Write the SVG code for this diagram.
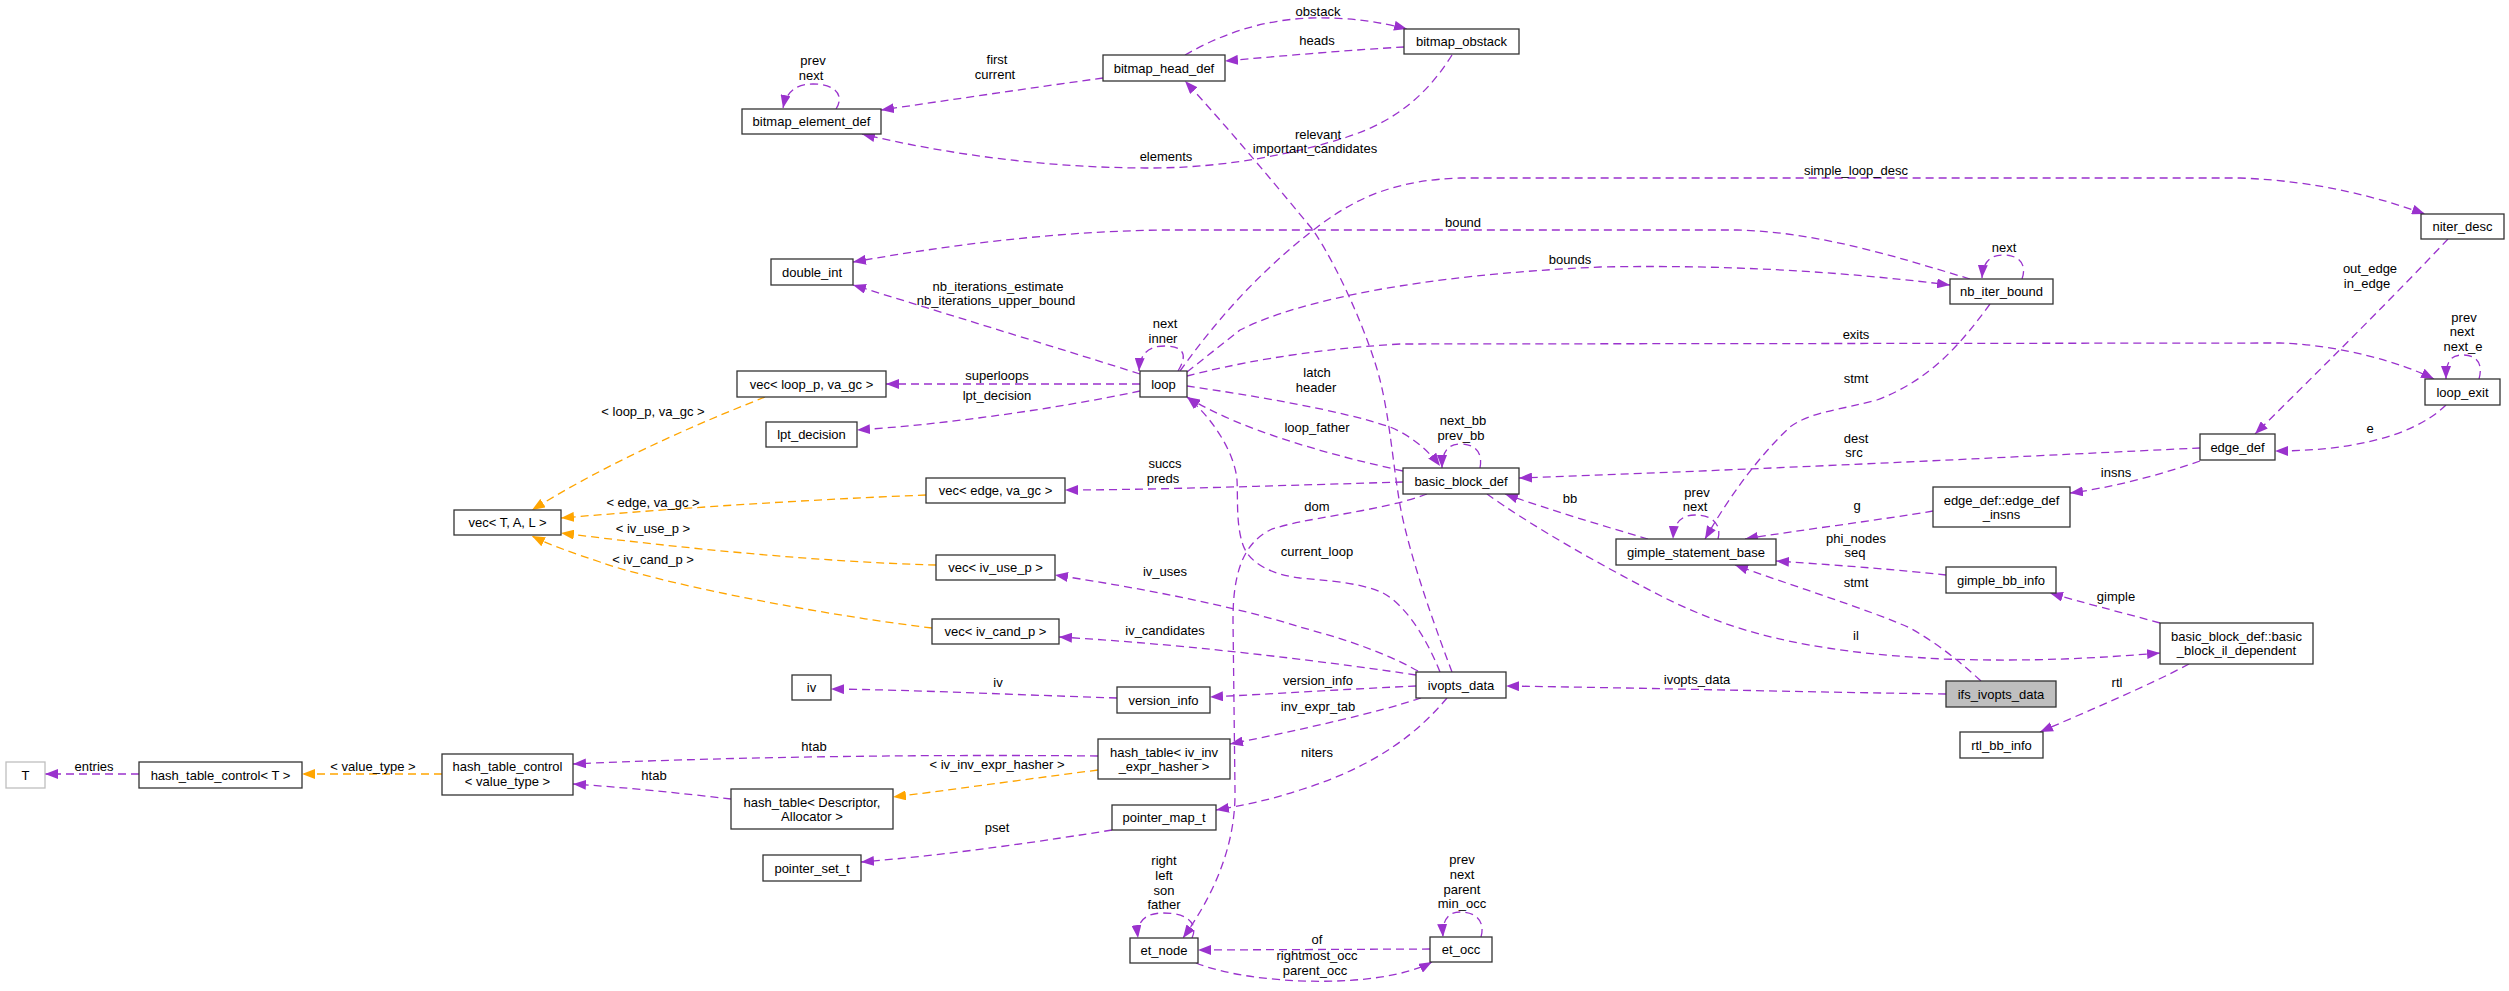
<svg xmlns="http://www.w3.org/2000/svg" width="2509" height="991" viewBox="0 0 2509 991">
<style>
.bg{fill:#fff}
.n rect{fill:#fff;stroke:#333;stroke-width:1.3}
.n text,.l text{font-family:"Liberation Sans",Arial,sans-serif;font-size:13px;fill:#000;text-anchor:middle}
.e path{fill:none;stroke:#9a32cd;stroke-width:1.3;stroke-dasharray:8,5;marker-end:url(#ap)}
.e path.o{stroke:#ffa500;marker-end:url(#ao)}
</style>
<defs>
<marker id="ap" markerUnits="userSpaceOnUse" markerWidth="14" markerHeight="10" refX="13" refY="5" orient="auto"><path d="M0,0 L13,5 L0,10 z" fill="#9a32cd"/></marker>
<marker id="ao" markerUnits="userSpaceOnUse" markerWidth="14" markerHeight="10" refX="13" refY="5" orient="auto"><path d="M0,0 L13,5 L0,10 z" fill="#ffa500"/></marker>
</defs>
<rect class="bg" x="0" y="0" width="2509" height="991"/>
<g id="edges" class="e">
<path d="M836,109 C845,95 835,84 813,84 C795,84 786,93 783,108"/>
<path d="M1103,78 C1030,88 950,100 881,110"/>
<path d="M1185,55 C1220,35 1260,20 1310,18 C1350,17 1380,22 1407,29"/>
<path d="M1404,47 C1350,50 1280,56 1225,61"/>
<path d="M1452,55 C1430,90 1400,120 1347,137 C1300,152 1230,168 1150,168 C1050,168 950,155 862,134"/>
<path d="M2022,279 C2027,265 2020,255 2003,255 C1990,255 1983,262 1982,278"/>
<path d="M1970,279 C1900,258 1820,232 1737,230 L1160,230 C1050,232 950,245 853,262"/>
<path d="M1187,372 L1240,330 C1300,300 1420,275 1600,267 C1750,264 1870,275 1950,285"/>
<path d="M1180,371 C1215,322 1260,270 1320,225 C1360,195 1400,180 1460,178 L2240,178 C2320,181 2380,198 2425,214"/>
<path d="M1187,376 C1230,365 1300,350 1400,344 L2280,343 C2340,345 2400,362 2434,379"/>
<path d="M1140,374 C1080,355 960,318 853,285"/>
<path d="M1140,384 L886,384"/>
<path d="M1140,391 C1060,408 950,424 857,430"/>
<path d="M1178,371 C1190,352 1180,346 1165,346 C1150,346 1140,352 1139,371"/>
<path d="M1187,386 C1250,395 1340,410 1390,427 C1410,435 1428,450 1440,466"/>
<path d="M1403,471 C1330,455 1240,430 1187,397"/>
<path d="M1480,468 C1483,452 1475,444 1460,444 C1448,444 1442,452 1442,468"/>
<path d="M1403,482 C1300,485 1150,490 1065,490"/>
<path d="M1427,494 C1380,512 1300,518 1270,530 C1240,545 1233,580 1233,620 L1235,790 C1236,850 1210,900 1183,938"/>
<path d="M1440,672 C1425,635 1405,605 1383,593 C1360,582 1320,580 1300,578 C1275,575 1250,565 1243,545 C1236,525 1238,500 1237,480 C1235,455 1215,420 1187,397"/>
<path d="M1452,672 C1440,640 1410,560 1400,505 C1393,465 1390,420 1380,380 C1370,340 1340,270 1313,230 C1280,190 1230,130 1185,81"/>
<path d="M1418,671 C1380,650 1340,638 1300,627 C1230,605 1140,588 1055,575"/>
<path d="M1416,675 C1350,665 1200,645 1059,637"/>
<path d="M1416,686 C1350,689 1270,694 1210,697"/>
<path d="M1117,698 C1020,695 920,690 831,689"/>
<path d="M1421,698 C1380,712 1300,730 1230,744"/>
<path d="M1447,698 C1420,730 1380,765 1300,790 C1270,800 1240,806 1216,810"/>
<path d="M1946,694 C1800,692 1650,688 1506,686"/>
<path d="M1981,681 C1960,662 1940,645 1910,628 C1870,610 1790,585 1735,565"/>
<path d="M1487,494 C1530,525 1600,565 1665,598 C1730,630 1800,652 1944,659 C2030,662 2100,658 2160,653"/>
<path d="M1648,539 C1600,525 1550,510 1505,494"/>
<path d="M1718,539 C1722,524 1712,515 1695,515 C1682,515 1674,522 1673,539"/>
<path d="M1990,304 C1960,345 1930,380 1877,400 C1840,410 1810,412 1790,427 C1760,455 1730,495 1705,539"/>
<path d="M2200,448 C2050,455 1800,468 1519,478"/>
<path d="M1933,511 C1880,520 1800,530 1745,539"/>
<path d="M1946,575 C1900,570 1850,566 1776,561"/>
<path d="M2160,623 C2120,612 2080,602 2050,593"/>
<path d="M2189,664 C2150,685 2090,710 2040,732"/>
<path d="M2446,405 C2410,440 2340,451 2275,451"/>
<path d="M2479,379 C2483,365 2478,355 2463,355 C2450,355 2446,362 2446,379"/>
<path d="M2448,239 C2400,290 2330,360 2255,434"/>
<path d="M2200,461 C2160,475 2110,488 2070,493"/>
<path class="o" d="M765,397 C720,415 620,455 532,510"/>
<path class="o" d="M926,495 C800,500 680,508 561,518"/>
<path class="o" d="M936,565 C820,562 680,548 561,533"/>
<path class="o" d="M932,628 C800,612 650,580 600,562 C570,552 550,545 532,536"/>
<path d="M1098,756 C900,754 700,758 573,764"/>
<path d="M731,799 C680,793 620,787 573,784"/>
<path class="o" d="M1098,770 C1020,780 950,790 893,797"/>
<path d="M1112,830 C1050,840 950,855 861,862"/>
<path class="o" d="M442,774 L302,774"/>
<path d="M139,774 L45,774"/>
<path d="M1192,938 C1198,925 1190,913 1163,913 C1145,913 1136,922 1138,938"/>
<path d="M1481,937 C1485,923 1478,912 1460,912 C1447,912 1442,922 1443,937"/>
<path d="M1430,949 L1198,950"/>
<path d="M1196,963 C1250,985 1380,990 1432,962"/>
</g>
<g id="labels" class="l">
<text x="813" y="65">prev</text><text x="811" y="80">next</text>
<text x="997" y="64">first</text><text x="995" y="79">current</text>
<text x="1318" y="16">obstack</text>
<text x="1317" y="45">heads</text>
<text x="1166" y="161">elements</text>
<text x="1318" y="139">relevant</text><text x="1315" y="153">important_candidates</text>
<text x="1856" y="175">simple_loop_desc</text>
<text x="1463" y="227">bound</text>
<text x="1570" y="264">bounds</text>
<text x="2004" y="252">next</text>
<text x="2370" y="273">out_edge</text><text x="2367" y="288">in_edge</text>
<text x="998" y="291">nb_iterations_estimate</text><text x="996" y="305">nb_iterations_upper_bound</text>
<text x="2464" y="322">prev</text><text x="2462" y="336">next</text><text x="2463" y="351">next_e</text>
<text x="1165" y="328">next</text><text x="1163" y="343">inner</text>
<text x="1856" y="339">exits</text>
<text x="997" y="380">superloops</text>
<text x="997" y="400">lpt_decision</text>
<text x="1317" y="377">latch</text><text x="1316" y="392">header</text>
<text x="1856" y="383">stmt</text>
<text x="653" y="416">&lt; loop_p, va_gc &gt;</text>
<text x="1463" y="425">next_bb</text><text x="1461" y="440">prev_bb</text>
<text x="1317" y="432">loop_father</text>
<text x="1856" y="443">dest</text><text x="1854" y="457">src</text>
<text x="2370" y="433">e</text>
<text x="1165" y="468">succs</text><text x="1163" y="483">preds</text>
<text x="2116" y="477">insns</text>
<text x="1570" y="503">bb</text>
<text x="653" y="507">&lt; edge, va_gc &gt;</text>
<text x="1697" y="497">prev</text><text x="1695" y="511">next</text>
<text x="1857" y="510">g</text>
<text x="1317" y="511">dom</text>
<text x="653" y="533">&lt; iv_use_p &gt;</text>
<text x="1856" y="543">phi_nodes</text><text x="1855" y="557">seq</text>
<text x="1317" y="556">current_loop</text>
<text x="653" y="564">&lt; iv_cand_p &gt;</text>
<text x="1165" y="576">iv_uses</text>
<text x="1856" y="587">stmt</text>
<text x="2116" y="601">gimple</text>
<text x="1165" y="635">iv_candidates</text>
<text x="1856" y="640">il</text>
<text x="1318" y="685">version_info</text>
<text x="1697" y="684">ivopts_data</text>
<text x="998" y="687">iv</text>
<text x="2117" y="687">rtl</text>
<text x="1318" y="711">inv_expr_tab</text>
<text x="814" y="751">htab</text>
<text x="1317" y="757">niters</text>
<text x="997" y="769">&lt; iv_inv_expr_hasher &gt;</text>
<text x="94" y="771">entries</text>
<text x="373" y="771">&lt; value_type &gt;</text>
<text x="654" y="780">htab</text>
<text x="997" y="832">pset</text>
<text x="1164" y="865">right</text><text x="1164" y="880">left</text><text x="1164" y="895">son</text><text x="1164" y="909">father</text>
<text x="1462" y="864">prev</text><text x="1462" y="879">next</text><text x="1462" y="894">parent</text><text x="1462" y="908">min_occ</text>
<text x="1317" y="944">of</text><text x="1317" y="960">rightmost_occ</text><text x="1315" y="975">parent_occ</text>
</g>
<g id="n-bitmap_element_def" class="n"><rect x="742" y="109" width="139" height="25"/><text x="811.5" y="126">bitmap_element_def</text></g>
<g id="n-bitmap_head_def" class="n"><rect x="1103" y="55" width="122" height="26"/><text x="1164" y="72.5">bitmap_head_def</text></g>
<g id="n-bitmap_obstack" class="n"><rect x="1404" y="29" width="115" height="25"/><text x="1461.5" y="46">bitmap_obstack</text></g>
<g id="n-double_int" class="n"><rect x="771" y="259" width="82" height="26"/><text x="812" y="276.5">double_int</text></g>
<g id="n-nb_iter_bound" class="n"><rect x="1950" y="279" width="103" height="25"/><text x="2001.5" y="296">nb_iter_bound</text></g>
<g id="n-niter_desc" class="n"><rect x="2421" y="214" width="83" height="25"/><text x="2462.5" y="231">niter_desc</text></g>
<g id="n-vec_loop_p" class="n"><rect x="737" y="371" width="149" height="26"/><text x="811.5" y="388.5">vec&lt; loop_p, va_gc &gt;</text></g>
<g id="n-lpt_decision" class="n"><rect x="766" y="422" width="91" height="25"/><text x="811.5" y="439">lpt_decision</text></g>
<g id="n-vec_T_A_L" class="n"><rect x="454" y="510" width="107" height="25"/><text x="507.5" y="527">vec&lt; T, A, L &gt;</text></g>
<g id="n-loop" class="n"><rect x="1140" y="371" width="47" height="26"/><text x="1163.5" y="388.5">loop</text></g>
<g id="n-vec_edge" class="n"><rect x="926" y="478" width="139" height="25"/><text x="995.5" y="495">vec&lt; edge, va_gc &gt;</text></g>
<g id="n-vec_iv_use_p" class="n"><rect x="936" y="555" width="119" height="25"/><text x="995.5" y="572">vec&lt; iv_use_p &gt;</text></g>
<g id="n-basic_block_def" class="n"><rect x="1403" y="468" width="116" height="26"/><text x="1461" y="485.5">basic_block_def</text></g>
<g id="n-gimple_statement_base" class="n"><rect x="1616" y="539" width="160" height="26"/><text x="1696" y="556.5">gimple_statement_base</text></g>
<g id="n-loop_exit" class="n"><rect x="2425" y="379" width="75" height="26"/><text x="2462.5" y="396.5">loop_exit</text></g>
<g id="n-edge_def" class="n"><rect x="2200" y="434" width="75" height="26"/><text x="2237.5" y="451.5">edge_def</text></g>
<g id="n-edge_def_insns" class="n"><rect x="1933" y="487" width="137" height="40"/><text x="2001.5" y="505">edge_def::edge_def</text><text x="2001.5" y="519">_insns</text></g>
<g id="n-gimple_bb_info" class="n"><rect x="1946" y="567" width="110" height="26"/><text x="2001" y="584.5">gimple_bb_info</text></g>
<g id="n-basic_block_il_dependent" class="n"><rect x="2160" y="623" width="153" height="41"/><text x="2236.5" y="640.5">basic_block_def::basic</text><text x="2236.5" y="655">_block_il_dependent</text></g>
<g id="n-rtl_bb_info" class="n"><rect x="1960" y="732" width="83" height="26"/><text x="2001.5" y="749.5">rtl_bb_info</text></g>
<g id="n-ifs_ivopts_data" class="n"><rect x="1946" y="681" width="110" height="26" style="fill:#bfbfbf"/><text x="2001" y="698.5">ifs_ivopts_data</text></g>
<g id="n-ivopts_data" class="n"><rect x="1416" y="672" width="90" height="26"/><text x="1461" y="689.5">ivopts_data</text></g>
<g id="n-vec_iv_cand_p" class="n"><rect x="932" y="619" width="127" height="25"/><text x="995.5" y="636">vec&lt; iv_cand_p &gt;</text></g>
<g id="n-version_info" class="n"><rect x="1117" y="687" width="93" height="26"/><text x="1163.5" y="704.5">version_info</text></g>
<g id="n-iv" class="n"><rect x="792" y="675" width="39" height="25"/><text x="811.5" y="692">iv</text></g>
<g id="n-hash_table_iv_inv" class="n"><rect x="1098" y="739" width="132" height="40"/><text x="1164" y="757">hash_table&lt; iv_inv</text><text x="1164" y="771">_expr_hasher &gt;</text></g>
<g id="n-hash_table_desc" class="n"><rect x="731" y="789" width="162" height="40"/><text x="812" y="807">hash_table&lt; Descriptor,</text><text x="812" y="821">Allocator &gt;</text></g>
<g id="n-pointer_map_t" class="n"><rect x="1112" y="805" width="104" height="25"/><text x="1164" y="822">pointer_map_t</text></g>
<g id="n-pointer_set_t" class="n"><rect x="763" y="855" width="98" height="26"/><text x="812" y="872.5">pointer_set_t</text></g>
<g id="n-hash_table_control_vt" class="n"><rect x="442" y="754" width="131" height="41"/><text x="507.5" y="771">hash_table_control</text><text x="507.5" y="785.5">&lt; value_type &gt;</text></g>
<g id="n-hash_table_control_T" class="n"><rect x="139" y="762" width="163" height="26"/><text x="220.5" y="779.5">hash_table_control&lt; T &gt;</text></g>
<g id="n-T" class="n"><rect x="6" y="762" width="39" height="26" style="stroke:#bfbfbf"/><text x="25.5" y="779.5">T</text></g>
<g id="n-et_node" class="n"><rect x="1130" y="938" width="68" height="25"/><text x="1164" y="955">et_node</text></g>
<g id="n-et_occ" class="n"><rect x="1430" y="937" width="62" height="25"/><text x="1461" y="954">et_occ</text></g>
</svg>
